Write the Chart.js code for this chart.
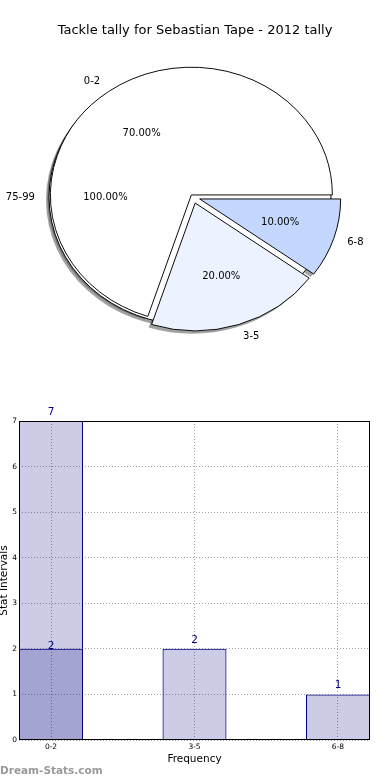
<!DOCTYPE html>
<html>
<head>
<meta charset="utf-8">
<script src="https://cdn.jsdelivr.net/npm/chart.js@4.4.1/dist/chart.umd.min.js"></script>
<style>
    body { margin: 0; background: #fff; width: 390px; height: 780px; position: relative; overflow: hidden; font-family: "DejaVu Sans", sans-serif; }
    #pie { position: absolute; left: 0; top: 0; }
    #bar { position: absolute; left: 0; top: 394px; }
    #title { position: absolute; left: 0; top: 22px; width: 390px; text-align: center; font-size: 13px; line-height: 16px; color: #000; }
    #mark { position: absolute; left: 0; top: 764px; font-size: 10.5px; line-height: 12px; font-weight: bold; color: #9a9a9a; }
</style>
</head>
<body>
<canvas id="pie" width="390" height="394"></canvas>
<canvas id="bar" width="390" height="386"></canvas>
<div id="title"></div>
<div id="mark">Dream-Stats.com</div>
<script>
const chartTitle = "Tackle tally for Sebastian Tape - 2012 tally";
const categories = ["0-2", "3-5", "6-8"];
const tallies = [7, 2, 1];
const overlayCategories = ["0-2"];
const overlayTallies = [2];
const backLabel = "75-99";
const backShare = 100;
const pieColors = ["#ffffff", "#ecf2ff", "#c4d7ff"];
const pieExplode = [2.8, 7, 7];

document.getElementById("title").textContent = chartTitle;
Chart.defaults.font.family = "DejaVu Sans";
Chart.defaults.color = "#000";

// pie is drawn squashed vertically, like the original
const squashY = 0.906;
const backOffset = 3;
const total = tallies.reduce((a, b) => a + b, 0);
let pieCenter = null;

function squash(ctx, cx, cy) {
    ctx.translate(cx, cy);
    ctx.scale(1, squashY);
    ctx.translate(-cx, -cy);
}

function wedge(ctx, arc) {
    ctx.beginPath();
    ctx.moveTo(arc.x, arc.y);
    ctx.arc(arc.x, arc.y, arc.outerRadius, arc.startAngle, arc.endAngle);
    ctx.closePath();
}

const pieLook = {
    id: "pieLook",
    afterDatasetUpdate(chart, args) {
        // push exploded slices out along their middle angle
        const ds = chart.data.datasets[args.index];
        const arcs = args.meta.data;
        pieCenter = {x: arcs[0].x, y: arcs[0].y, r: arcs[0].outerRadius};
        arcs.forEach((a, i) => {
            const mid = (a.startAngle + a.endAngle) / 2;
            a.x = pieCenter.x + Math.cos(mid) * ds.explode[i];
            a.y = pieCenter.y + Math.sin(mid) * ds.explode[i];
        });
    },
    beforeDatasetsDraw(chart) {
        const ctx = chart.ctx;
        const arcs = chart.getDatasetMeta(0).data;
        const {x, y, r} = pieCenter;

        // shadows
        ctx.save();
        ctx.translate(-3, 3);
        squash(ctx, x, y);
        ctx.fillStyle = "rgba(70,70,70,0.5)";
        arcs.forEach(a => { wedge(ctx, a); ctx.fill(); });
        ctx.beginPath();
        ctx.arc(x - backOffset, y, r, 0, Math.PI * 2);
        ctx.fill();
        ctx.restore();

        // the 75-99 slice (whole circle) behind the others
        ctx.save();
        squash(ctx, x, y);
        ctx.beginPath();
        ctx.arc(x - backOffset, y, r, 0, Math.PI * 2);
        ctx.fillStyle = "#fff";
        ctx.fill();
        ctx.lineWidth = 1;
        ctx.strokeStyle = "#000";
        ctx.stroke();
        ctx.restore();

        ctx.save();
        squash(ctx, x, y);
    },
    afterDatasetsDraw(chart) {
        const ctx = chart.ctx;
        ctx.restore();
        const arcs = chart.getDatasetMeta(0).data;
        const ds = chart.data.datasets[0];
        const names = chart.data.labels;
        const {x, y, r} = pieCenter;
        ctx.save();
        ctx.font = "10px 'DejaVu Sans'";
        ctx.fillStyle = "#000";
        ctx.textBaseline = "middle";
        const put = (name, pct, mid, off) => {
            const dx = Math.cos(mid), dy = Math.sin(mid);
            ctx.textAlign = dx > 0.001 ? "left" : "right";
            ctx.fillText(name, x + dx * (off + 1.1 * r), y + dy * (off + 1.1 * r) * squashY);
            ctx.textAlign = "center";
            ctx.fillText(pct.toFixed(2) + "%", x + dx * (off + 0.6 * r), y + dy * (off + 0.6 * r) * squashY);
        };
        put(backLabel, backShare, Math.PI, backOffset);
        arcs.forEach((a, i) => {
            const mid = (a.startAngle + a.endAngle) / 2;
            put(names[i], ds.data[i] / total * 100, mid, ds.explode[i]);
        });
        ctx.restore();
    }
};

// chart.js goes clockwise, the original goes counter-clockwise from 3 o'clock
new Chart(document.getElementById("pie"), {
    type: "pie",
    data: {
        labels: [...categories].reverse(),
        datasets: [{
            data: [...tallies].reverse(),
            backgroundColor: [...pieColors].reverse(),
            explode: [...pieExplode].reverse(),
            borderColor: "#000",
            borderWidth: 1,
            rotation: 90,
            radius: 141
        }]
    },
    options: {
        responsive: false,
        animation: false,
        events: [],
        layout: {padding: {right: 4, bottom: 0}},
        plugins: {legend: {display: false}, tooltip: {enabled: false}}
    },
    plugins: [pieLook]
});

const navyFill = "rgba(0,0,128,0.2)";
const labelLift = [9, 2.3];

const barLook = {
    id: "barLook",
    afterDatasetsDraw(chart) {
        const {ctx, chartArea: a} = chart;
        ctx.save();
        ctx.strokeStyle = "#000";
        ctx.lineWidth = 1;
        ctx.strokeRect(a.left + 0.5, a.top + 0.5, a.right - a.left - 1, a.bottom - a.top - 1);
        ctx.font = "10.5px 'DejaVu Sans'";
        ctx.fillStyle = "#000080";
        ctx.textAlign = "center";
        ctx.textBaseline = "middle";
        chart.data.datasets.forEach((ds, d) => {
            chart.getDatasetMeta(d).data.forEach((el, i) => {
                ctx.fillText(String(ds.data[i].y), el.x, el.y - labelLift[d]);
            });
        });
        ctx.restore();
    }
};

new Chart(document.getElementById("bar"), {
    type: "bar",
    data: {
        datasets: [{
            data: categories.map((c, i) => ({x: i, y: tallies[i]})),
            backgroundColor: navyFill,
            borderColor: "#000080",
            borderWidth: 1
        }, {
            data: overlayCategories.map((c, i) => ({x: categories.indexOf(c), y: overlayTallies[i]})),
            backgroundColor: navyFill,
            borderColor: "#000080",
            borderWidth: 1
        }]
    },
    options: {
        responsive: false,
        animation: false,
        events: [],
        grouped: false,
        barPercentage: 0.446,
        categoryPercentage: 1,
        layout: {padding: {top: 27, right: 20, left: 0, bottom: 0}},
        plugins: {legend: {display: false}, tooltip: {enabled: false}},
        scales: {
            x: {
                type: "linear",
                offset: false,
                min: -0.223,
                max: 2.223,
                afterFit: s => { s.height = 40; },
                grid: {color: "#a0a0a0", drawTicks: false, offset: false},
                border: {display: false, dash: [1, 2]},
                ticks: {
                    stepSize: 1,
                    includeBounds: false,
                    autoSkip: false,
                    maxRotation: 0,
                    padding: 3,
                    font: {size: 7.5},
                    callback: v => categories[v]
                },
                title: {display: true, text: "Frequency", font: {size: 10.5}, padding: {top: 0, bottom: 14}}
            },
            y: {
                min: 0,
                max: 7,
                afterFit: s => { s.width = 19; },
                grid: {color: "#a0a0a0", drawTicks: false},
                border: {display: false, dash: [1, 2]},
                ticks: {stepSize: 1, padding: 2, font: {size: 7.5}},
                title: {display: true, text: "Stat Intervals", font: {size: 10.5, lineHeight: 0.75}, padding: {top: 0, bottom: 0}}
            }
        }
    },
    plugins: [barLook]
});
</script>
</body>
</html>
